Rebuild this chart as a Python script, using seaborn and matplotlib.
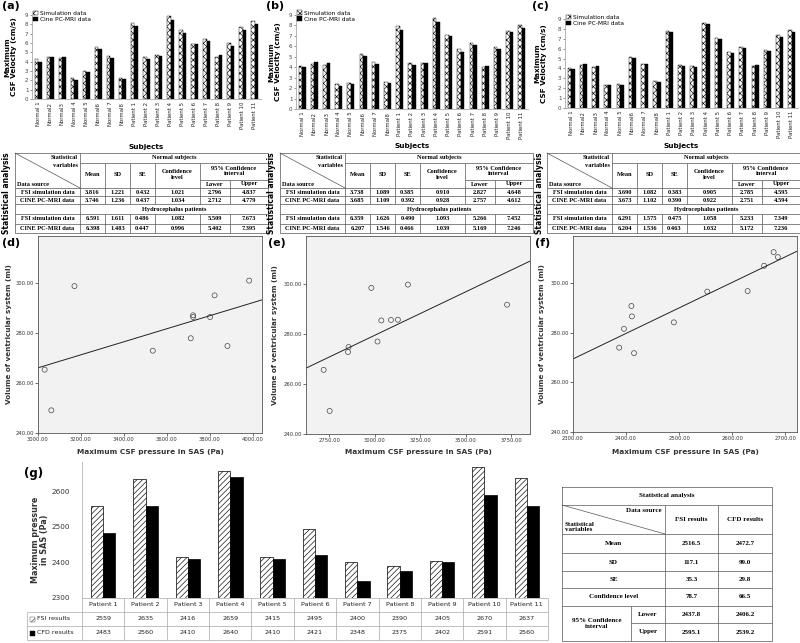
import numpy as np
import pandas as pd
import matplotlib.pyplot as plt
import seaborn as sns
from matplotlib.patches import Patch, Rectangle

# --- Configuration ---
W, H = 800, 643
plt.rcParams["font.family"] = "DejaVu Sans"
plt.rcParams["hatch.linewidth"] = 0.45
SERIF = "Liberation Serif"
LINE = "#555555"

# --- Data: (a)-(c) maximum CSF velocity (cm/s) ---
SUBJECTS = ["Normal 1", "Normal2", "Normal3", "Normal 4", "Normal 5", "Normal6",
            "Normal 7", "Normal8", "Patient 1", "Patient 2", "Patient 3", "Patient 4",
            "Patient 5", "Patient 6", "Patient 7", "Patient 8", "Patient 9",
            "Patient 10", "Patient 11"]
SOURCES = ["Simulation data", "Cine PC-MRI data"]

a_sim = [4.25, 4.45, 4.35, 2.25, 3.0, 5.6, 4.6, 2.25, 8.1, 4.5, 4.7, 8.9, 7.4, 5.9, 6.4, 4.55, 6.0, 7.7, 8.4]
a_cine = [4.0, 4.55, 4.5, 2.05, 2.85, 5.4, 4.4, 2.1, 7.8, 4.25, 4.6, 8.5, 7.1, 5.9, 6.25, 4.7, 5.7, 7.35, 8.05]
b_sim = [4.1, 4.3, 4.2, 2.4, 2.5, 5.3, 4.5, 2.6, 7.9, 4.4, 4.4, 8.7, 7.1, 5.7, 6.3, 4.0, 5.9, 7.5, 8.0]
b_cine = [4.0, 4.5, 4.4, 2.25, 2.4, 5.1, 4.3, 2.5, 7.6, 4.2, 4.4, 8.35, 7.0, 5.5, 6.1, 4.1, 5.7, 7.4, 7.8]
c_sim = [4.05, 4.35, 4.15, 2.35, 2.4, 5.2, 4.5, 2.7, 7.8, 4.3, 4.2, 8.6, 7.05, 5.7, 6.2, 4.25, 5.9, 7.35, 7.85]
c_cine = [3.95, 4.4, 4.25, 2.3, 2.3, 5.1, 4.45, 2.6, 7.65, 4.25, 4.15, 8.5, 6.95, 5.55, 6.05, 4.3, 5.8, 7.2, 7.7]

# statistics tables under (a)-(c): rows FSI normal, CINE normal, FSI hydro, CINE hydro
a_table = [["3.816", "1.221", "0.432", "1.021", "2.796", "4.837"],
           ["3.746", "1.236", "0.437", "1.034", "2.712", "4.779"],
           ["6.591", "1.611", "0.486", "1.082", "5.509", "7.673"],
           ["6.398", "1.483", "0.447", "0.996", "5.402", "7.395"]]
b_table = [["3.738", "1.089", "0.385", "0.910", "2.827", "4.648"],
           ["3.685", "1.109", "0.392", "0.928", "2.757", "4.612"],
           ["6.359", "1.626", "0.490", "1.093", "5.266", "7.452"],
           ["6.207", "1.546", "0.466", "1.039", "5.169", "7.246"]]
c_table = [["3.690", "1.082", "0.383", "0.905", "2.785", "4.595"],
           ["3.673", "1.102", "0.390", "0.922", "2.751", "4.594"],
           ["6.291", "1.575", "0.475", "1.058", "5.233", "7.349"],
           ["6.204", "1.536", "0.463", "1.032", "5.172", "7.236"]]

# --- Data: (d)-(f) pressure vs ventricular volume ---
d_x = [3031, 3170, 3535, 3712, 3723, 3723, 3802, 3823, 3883, 3984, 3062]
d_y = [265.4, 298.9, 273.0, 278.0, 287.2, 286.5, 286.5, 295.2, 274.9, 301.1, 249.1]
e_x = [2719, 2752, 2856, 2853, 3015, 3036, 3089, 3127, 2981, 3182, 3727]
e_y = [265.6, 249.2, 274.7, 272.7, 276.9, 285.3, 285.5, 285.6, 298.3, 299.6, 291.6]
f_x = [2410, 2411, 2396, 2387, 2415, 2490, 2553, 2629, 2660, 2678, 2686]
f_y = [290.8, 286.6, 281.6, 274.0, 271.8, 284.2, 296.6, 296.8, 307.0, 312.5, 310.5]

# --- Data: (g) maximum pressure in SAS ---
PATIENTS = [f"Patient {i}" for i in range(1, 12)]
fsi = [2559, 2635, 2416, 2659, 2415, 2495, 2400, 2390, 2405, 2670, 2637]
cfd = [2483, 2560, 2410, 2640, 2410, 2421, 2348, 2375, 2402, 2591, 2560]
g_rows = ["Mean", "SD", "SE", "Confidence level", "Lower", "Upper"]
g_fsi = ["2516.5", "117.1", "35.3", "78.7", "2437.8", "2595.1"]
g_cfd = ["2472.7", "99.0", "29.8", "66.5", "2406.2", "2539.2"]


def rect(x0, y0, x1, y1):
    # pixel box -> figure fraction
    return [x0 / W, 1 - y1 / H, (x1 - x0) / W, (y1 - y0) / H]


fig = plt.figure(figsize=(W / 100, H / 100), dpi=100)
ov = fig.add_axes([0, 0, 1, 1])
ov.set_xlim(0, W)
ov.set_ylim(H, 0)
ov.axis("off")
ov.patch.set_alpha(0)


# %%
# --- Velocity bar panels ---
def velocity_panel(box, sim, cine, tag, tag_x, xlab_y):
    x0, y0, x1, y1 = box
    ax = fig.add_axes(rect(*box))
    df = pd.DataFrame({"subject": SUBJECTS * 2, "value": sim + cine,
                       "source": [SOURCES[0]] * len(sim) + [SOURCES[1]] * len(cine)})
    sns.barplot(data=df, x="subject", y="value", hue="source", hue_order=SOURCES,
                palette=["white", "black"], saturation=1, width=0.58, errorbar=None,
                edgecolor="black", linewidth=0.3, legend=False, ax=ax)
    for bar in ax.containers[0]:
        bar.set_hatch("xxxxx")
    ax.set_xlim(-0.5, len(SUBJECTS) - 0.5)
    ax.set_ylim(0, 9)
    ax.set_yticks(range(10))
    ax.tick_params(axis="y", labelsize=4, length=1.5, width=0.4, pad=1, colors="#444")
    ax.tick_params(axis="x", labelsize=3.9, length=0, pad=2, rotation=90, colors="#222")
    for s in ["top", "right"]:
        ax.spines[s].set_visible(False)
    for s in ["left", "bottom"]:
        ax.spines[s].set_color("#999")
        ax.spines[s].set_linewidth(0.5)
    ax.set_xlabel("Subjects", fontsize=5.2, fontweight="bold", va="center")
    ax.xaxis.set_label_coords(0.5, (y1 - xlab_y) / (y1 - y0))
    ax.set_ylabel("Maximum\nCSF Velocity (cm/s)", fontsize=5.2, fontweight="bold",
                  va="center", linespacing=1.1)
    ax.yaxis.set_label_coords((tag_x + 9 - x0) / (x1 - x0), 0.5)
    handles = [Patch(facecolor="white", edgecolor="black", hatch="xxxxx", lw=0.3, label=SOURCES[0]),
               Patch(facecolor="black", edgecolor="black", lw=0.3, label=SOURCES[1])]
    ax.legend(handles=handles, loc="upper left", bbox_to_anchor=(0.005, 1.05), frameon=False,
              fontsize=4.2, handlelength=0.8, handleheight=0.8, handletextpad=0.4,
              labelspacing=0.15, borderpad=0, borderaxespad=0)
    ov.text(tag_x, 1, tag, fontsize=8, fontweight="bold", va="top", ha="left")


velocity_panel((32, 15, 261, 99), a_sim, a_cine, "(a)", 2, 147)
velocity_panel((296, 15, 528, 109), b_sim, b_cine, "(b)", 266, 146)
velocity_panel((565, 19, 798, 108), c_sim, c_cine, "(c)", 532, 146)


# %%
# --- Statistics tables under the velocity panels ---
def stats_table(x0, vals):
    cols = [x0 + c for c in (0, 65, 90, 115, 140, 185, 215, 253)]
    L, R = cols[0], cols[-1]
    kw = dict(color=LINE, lw=0.5)
    ov.plot([L, R, R, L, L], [153, 153, 233, 233, 153], **kw)
    ov.vlines(cols[1], 153, 233, **kw)
    ov.hlines(163, cols[1], R, **kw)
    ov.vlines(cols[2:6], 163, 204, **kw)
    ov.vlines(cols[6], 180, 204, **kw)
    ov.hlines(180, cols[5], R, **kw)
    ov.hlines([188, 196, 204, 214, 224], L, R, **kw)
    ov.vlines(cols[2:7], 214, 233, **kw)
    ov.plot([L, cols[1]], [153, 188], **kw)
    tk = dict(family=SERIF, fontweight="bold", fontsize=4.6, va="center")
    mid = lambda i, j: (cols[i] + cols[j]) / 2
    ov.text(cols[1] - 2, 157.5, "Statistical", ha="right", **tk)
    ov.text(cols[1] - 2, 165.5, "variables", ha="right", **tk)
    ov.text(L + 2, 184, "Data source", ha="left", **tk)
    ov.text(mid(1, 7), 158, "Normal subjects", ha="center", **tk)
    ov.text(mid(1, 7), 209, "Hydrocephalus patients", ha="center", **tk)
    for i, name in enumerate(["Mean", "SD", "SE"]):
        ov.text(mid(1 + i, 2 + i), 175, name, ha="center", **tk)
    ov.text(mid(4, 5), 174.5, "Confidence\nlevel", ha="center", linespacing=1.1, **tk)
    ov.text(mid(5, 7), 171, "95% Confidence\ninterval", ha="center", linespacing=1.1, **tk)
    ov.text(mid(5, 6), 184, "Lower", ha="center", **tk)
    ov.text(mid(6, 7), 184, "Upper", ha="center", **tk)
    for row, yc in zip(vals, [192, 200, 219, 228.5]):
        name = "FSI simulation data" if yc in (192, 219) else "CINE PC-MRI data"
        ov.text(mid(0, 1), yc, name, ha="center", **tk)
        for i, v in enumerate(row):
            ov.text(mid(1 + i, 2 + i), yc, v, ha="center", **tk)
    ov.text(x0 - 8, 193, "Statistical analysis", rotation=90, ha="center", va="center",
            fontsize=5.5, fontweight="bold")


stats_table(15, a_table)
stats_table(280, b_table)
stats_table(547, c_table)


# %%
# --- Scatter panels with regression line ---
def scatter_panel(box, x, y, xlim, xticks, tag, tag_x):
    x0, y0, x1, y1 = box
    ax = fig.add_axes(rect(*box))
    ax.set_facecolor("#f2f2f2")
    ax.set_xlim(xlim)
    ax.set_ylim(240, 319)
    sns.regplot(x=np.array(x, float), y=np.array(y, float), ax=ax, ci=None, truncate=False,
                scatter_kws=dict(s=13, facecolors="none", edgecolors="#444", linewidths=0.5, alpha=1),
                line_kws=dict(color="#222", lw=0.7))
    ax.set_xlim(xlim)
    ax.set_ylim(240, 319)
    ax.set_xticks(xticks)
    ax.set_xticklabels([f"{v:.2f}" for v in xticks])
    ax.set_yticks([240, 260, 280, 300])
    ax.set_yticklabels([f"{v:.2f}" for v in [240, 260, 280, 300]])
    ax.tick_params(labelsize=3.8, length=2, width=0.5, pad=1, colors="#333")
    for s in ax.spines.values():
        s.set_color("#555")
        s.set_linewidth(0.6)
    ax.set_xlabel("Maximum CSF pressure in SAS (Pa)", fontsize=5.3, fontweight="bold",
                  color="#333", va="center")
    ax.xaxis.set_label_coords(0.5, (y1 - 452) / (y1 - y0))
    ax.set_ylabel("Volume of ventricular system (ml)", fontsize=5.2, fontweight="bold",
                  color="#333", va="center")
    ax.yaxis.set_label_coords((tag_x + 7 - x0) / (x1 - x0), 0.5)
    ov.text(tag_x, 243, tag, fontsize=8, fontweight="bold", va="center", ha="left")


scatter_panel((38, 236, 262, 433), d_x, d_y, (3000, 4044),
              [3000, 3200, 3400, 3600, 3800, 4000], "(d)", 2)
scatter_panel((306, 236, 530, 434), e_x, e_y, (2622, 3853),
              [2750, 3000, 3250, 3500, 3750], "(e)", 268)
scatter_panel((573, 236, 797, 432), f_x, f_y, (2300, 2722),
              [2300, 2400, 2500, 2600, 2700], "(f)", 535)


# %%
# --- (g) pressure bars with data table ---
gx0, gx1, gy0, gy1 = 82, 548, 462, 598
axg = fig.add_axes(rect(gx0, gy0, gx1, gy1))
dfg = pd.DataFrame({"patient": PATIENTS * 2, "value": fsi + cfd,
                    "method": ["FSI results"] * 11 + ["CFD results"] * 11})
sns.barplot(data=dfg, x="patient", y="value", hue="method", palette=["white", "black"],
            saturation=1, width=0.58, errorbar=None, edgecolor="black", linewidth=0.5,
            legend=False, ax=axg)
for bar in axg.containers[0]:
    bar.set_hatch("//////")
axg.set_xlim(-0.5, 10.5)
axg.set_ylim(2300, 2683)
axg.set_yticks([2300, 2400, 2500, 2600])
axg.tick_params(axis="y", labelsize=5.2, length=0, pad=9, colors="#333")
axg.tick_params(axis="x", length=0, labelbottom=False)
axg.set_xlabel("")
for s in ["top", "right", "bottom"]:
    axg.spines[s].set_visible(False)
axg.spines["left"].set_color("#b5b5b5")
axg.spines["left"].set_linewidth(0.6)
axg.set_ylabel("Maximum pressure\nin SAS (Pa)", fontsize=5.8, fontweight="bold",
               color="#333", va="center", linespacing=1.1)
axg.yaxis.set_label_coords((40 - gx0) / (gx1 - gx0), (gy1 - 540) / (gy1 - gy0))
ov.text(24, 473, "(g)", fontsize=8.5, fontweight="bold", va="center", ha="left")

# data table below the bars
cw = (gx1 - gx0) / 11
gk = dict(color="#a8a8a8", lw=0.5)
ov.hlines(598, gx0, gx1, **gk)
ov.hlines([612, 626, 640], 27, gx1, **gk)
ov.vlines(27, 612, 640, **gk)
ov.vlines([gx0 + k * cw for k in range(12)], 598, 640, **gk)
for k, name in enumerate(PATIENTS):
    xc = gx0 + (k + 0.5) * cw
    ov.text(xc, 605, name, ha="center", va="center", fontsize=4.6, color="#222")
    ov.text(xc, 619, str(fsi[k]), ha="center", va="center", fontsize=4.6, color="#222")
    ov.text(xc, 633, str(cfd[k]), ha="center", va="center", fontsize=4.6, color="#222")
ov.add_patch(Rectangle((30, 616.5), 5, 5, facecolor="white", edgecolor="#444", hatch="/////", lw=0.3))
ov.add_patch(Rectangle((30, 630.5), 5, 5, facecolor="black", edgecolor="black", lw=0.3))
ov.text(37, 619, "FSI results", ha="left", va="center", fontsize=4.6, color="#222")
ov.text(37, 633, "CFD results", ha="left", va="center", fontsize=4.6, color="#222")

# statistics table for (g)
L, a, b, c, R = 562, 631, 665, 718, 772
ys = [487, 505, 534, 553, 571, 588, 606, 623, 641]
tk = dict(color=LINE, lw=0.5)
ov.plot([L, R, R, L, L], [ys[0], ys[0], ys[-1], ys[-1], ys[0]], **tk)
ov.hlines(ys[1:7], L, R, **tk)
ov.hlines(ys[7], a, R, **tk)
ov.vlines([b, c], ys[1], ys[-1], **tk)
ov.vlines(a, ys[6], ys[-1], **tk)
ov.plot([L, b], [ys[1], ys[2]], **tk)
st = dict(family=SERIF, fontweight="bold", fontsize=5, va="center")
ov.text((L + R) / 2, 496, "Statistical analysis", ha="center", **st)
ov.text(b - 3, 510.5, "Data source", ha="right", **st)
ov.text(L + 3, 527, "Statistical\nvariables", ha="left", linespacing=1.0, **st)
ov.text((b + c) / 2, 519.5, "FSI results", ha="center", **st)
ov.text((c + R) / 2, 519.5, "CFD results", ha="center", **st)
for i in range(6):
    yc = (ys[2 + i] + ys[3 + i]) / 2
    if i < 4:
        ov.text((L + b) / 2, yc, g_rows[i], ha="center", **st)
    else:
        ov.text((a + b) / 2, yc, g_rows[i], ha="center", **st)
    ov.text((b + c) / 2, yc, g_fsi[i], ha="center", **st)
    ov.text((c + R) / 2, yc, g_cfd[i], ha="center", **st)
ov.text((L + a) / 2, (ys[6] + ys[8]) / 2, "95% Confidence\ninterval", ha="center",
        linespacing=1.3, **st)

fig.savefig("out.png", dpi=100)
